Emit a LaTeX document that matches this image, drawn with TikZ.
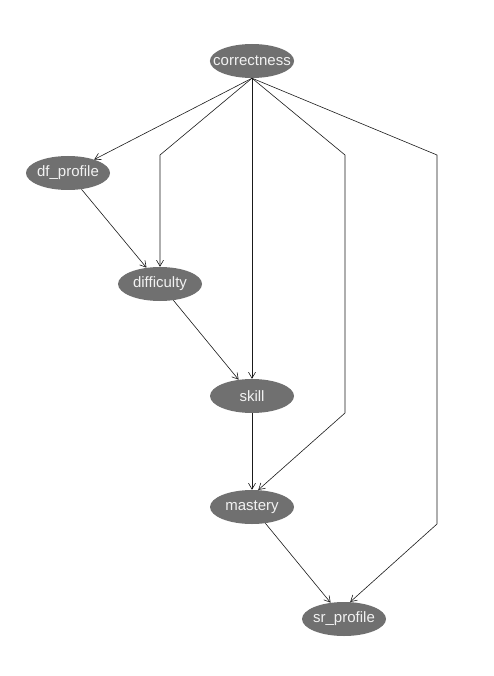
\documentclass[tikz,border=0pt]{standalone}
\usepackage{fontspec}
\setmainfont{Liberation Sans}
\usepackage{tikz}
\usetikzlibrary{arrows.meta,shapes.geometric}
\usepackage{xcolor}
\definecolor{NetNode}{HTML}{707070}
\definecolor{NetText}{HTML}{F2F2F2}
\definecolor{NetEdge}{HTML}{1A1A1A}

\begin{document}
\begin{tikzpicture}[>={Straight Barb[length=6pt,width=7pt]},x=1pt,y=-1pt,
  font=\fontsize{15}{18}\selectfont,
  var/.style={ellipse,fill=NetNode,text=NetText,minimum width=84pt,minimum height=34pt,inner xsep=-9pt,inner ysep=0pt},
  arc/.style={->,NetEdge,line width=0.6pt}]
  \useasboundingbox (0,0) rectangle (493,676);
  \node[var] (cor) at (252,61) {correctness};
  \node[var] (dfp) at (68,173) {df\_profile};
  \node[var] (dif) at (160,284) {difficulty};
  \node[var] (ski) at (252,396) {skill};
  \node[var] (mas) at (252,507) {mastery};
  \node[var] (srp) at (344,619) {sr\_profile};
  \coordinate (root) at (cor.south);
  \draw[arc] (root) -- (dfp);
  \draw[arc] (root) -- (160,155) -- (dif);
  \draw[arc] (root) -- (ski);
  \draw[arc] (root) -- (345,155) -- (345,413) -- (mas.70);
  \draw[arc] (root) -- (437,155) -- (437,524) -- (srp.70);
  \foreach \a/\b in {dfp/dif,dif/ski,ski/mas,mas/srp}{\draw[arc] (\a) -- (\b);}
\end{tikzpicture}
\end{document}
